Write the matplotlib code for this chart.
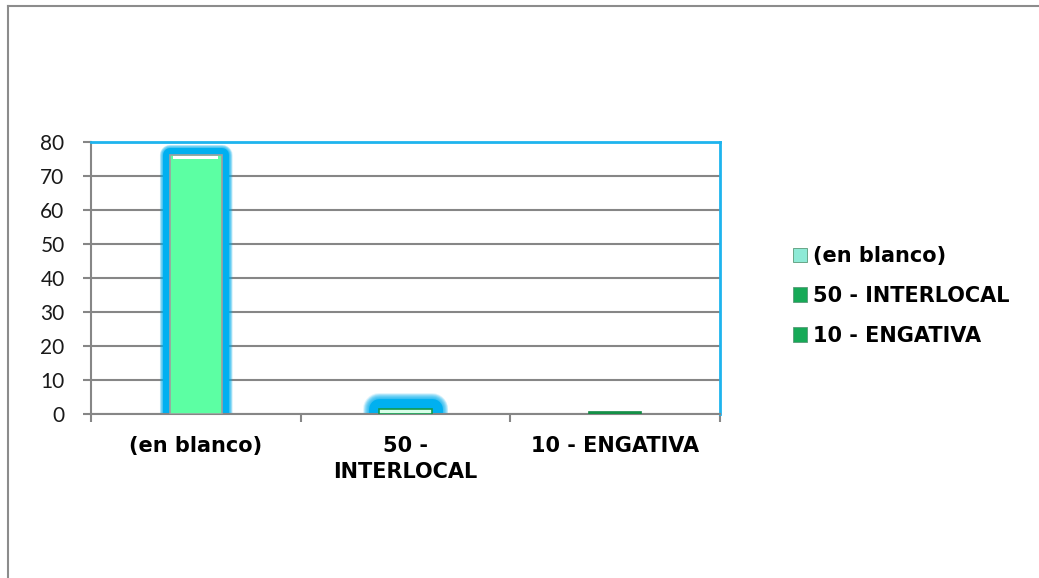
import matplotlib.pyplot as plt
from matplotlib.patches import Patch
from matplotlib.lines import Line2D

categories = ['(en blanco)', '50 -\nINTERLOCAL', '10 - ENGATIVA']
series = ['(en blanco)', '50 - INTERLOCAL', '10 - ENGATIVA']
values = [76, 1.4, 0.6]
y_ticks = [0, 10, 20, 30, 40, 50, 60, 70, 80]

face_colors = ['#5CFFA3', '#D8FFE8', '#1DB35A']
edge_colors = ['#A0A0A0', '#139A4C', '#118A44']
legend_colors = ['#8EEAD6', '#17A957', '#17A957']
glow = [(10, 15), (15, 23), None]   # (solid core, outer fade) in points
glow_color = '#00B0F0'

fig = plt.figure(figsize=(10.39, 5.78), dpi=100)
ax = fig.add_axes([91 / 1039, 1 - 414 / 578, (720 - 91) / 1039, (414 - 141.5) / 578])

x = list(range(len(categories)))
width = 0.25

# soft blue glow behind the first two bars
for xi, v, g in zip(x, values, glow):
    if g is None:
        continue
    core, outer = g
    steps = 12
    for k in range(steps):
        lw = outer - (outer - core) * k / (steps - 1)
        ax.bar(xi, v, width, color=glow_color, edgecolor=glow_color, linewidth=lw,
               alpha=0.12, joinstyle='round', zorder=2)
    ax.bar(xi, v, width, color=glow_color, edgecolor=glow_color, linewidth=core,
           joinstyle='round', zorder=2)

ax.bar(x, values, width, color=face_colors, edgecolor=edge_colors, linewidth=1.2, zorder=3)

# bevel highlight along the top of the tall bar
ax.bar(x[0], 0.9, width * 0.86, bottom=values[0] - 1.1, color='white', linewidth=0, zorder=4)

ax.set_xlim(-0.5, 2.5)
ax.set_ylim(0, 80)
ax.set_yticks(y_ticks)
ax.set_yticklabels([str(t) for t in y_ticks], fontsize=15, family='Lato', color='#1A1A1A')
ax.yaxis.grid(True, color='#868686', linewidth=1.5, zorder=0)
ax.set_axisbelow(True)

ax.set_xticks(x)
ax.set_xticklabels(categories, fontsize=15, fontweight='bold', family='DejaVu Sans', linespacing=1.35)
ax.set_xticks([-0.5, 0.5, 1.5, 2.5], minor=True)
ax.tick_params(axis='x', which='major', length=0, pad=16)
ax.tick_params(axis='x', which='minor', length=6, width=1.5, color='#868686')
ax.tick_params(axis='y', length=6, width=1.5, color='#868686', pad=13)

for side in ['left', 'bottom']:
    ax.spines[side].set_color('#868686')
    ax.spines[side].set_linewidth(1.5)
for side in ['top', 'right']:
    ax.spines[side].set_color('#1EB4EE')
    ax.spines[side].set_linewidth(2)

handles = [Patch(facecolor=c, edgecolor='#5A9A78', linewidth=0.6) for c in legend_colors]
fig.legend(handles, series, loc='center left', bbox_to_anchor=(774 / 1039, 1 - 296 / 578),
           frameon=False, prop={'family': 'DejaVu Sans', 'weight': 'bold', 'size': 15},
           handlelength=0.7, handleheight=0.7, handletextpad=0.25, labelspacing=0.95)

# outer chart frame
fig.add_artist(Line2D([8 / 1039, 1], [1 - 6 / 578] * 2, color='#8C8C8C', linewidth=1.5))
fig.add_artist(Line2D([8 / 1039] * 2, [0, 1 - 6 / 578], color='#8C8C8C', linewidth=1.5))

fig.savefig('out.png', dpi=100)
